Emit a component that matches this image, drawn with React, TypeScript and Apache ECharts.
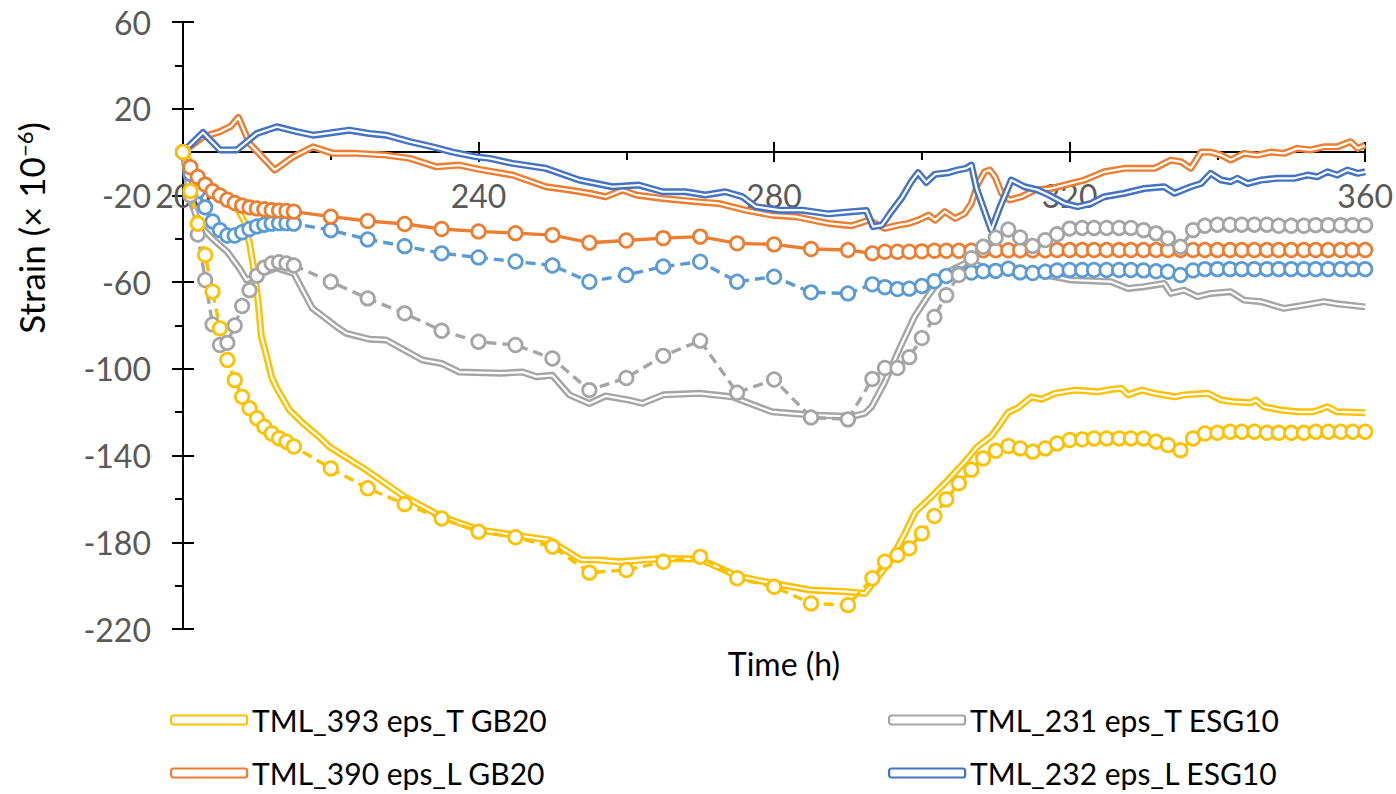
import React, { useEffect, useRef } from "react";
import * as echarts from "echarts";

const FONT = "Lato";

// Double-line gauge records: [time (h), strain (x10^-6)]
const tml393EpsT: [number, number][] = [
  [200, 0], [202, -10], [204, -16], [206, -21], [207.5, -27], [208.3, -32], [209, -42], [209.7, -56],
  [210.2, -70], [210.6, -85], [211.3, -94], [212, -104], [212.7, -109], [214.4, -119], [216.2, -125],
  [218.3, -131], [219.8, -135.9], [224.8, -146.7], [230, -159], [234.9, -168], [240.1, -174.3],
  [245, -176.7], [249.6, -179], [253.8, -188], [256.3, -188.2], [259, -189], [264.8, -187.5],
  [269.8, -187.7], [272.1, -191], [275, -195.6], [279.9, -199], [284.9, -202], [289.8, -202.8],
  [292.3, -203.6], [293.7, -197.4], [295.5, -189.7], [297.7, -176], [299.1, -166], [301.3, -159],
  [303.6, -151], [305.8, -143], [307.5, -136], [309.4, -131], [310.5, -126], [311.7, -120],
  [313, -118], [314.8, -113], [316.2, -114], [318, -111.3], [320.7, -109.8], [323.8, -110.6],
  [325.6, -109.5], [327, -109], [327.9, -112], [329.7, -109.8], [331.5, -111.3], [334.2, -112.9],
  [335.5, -112], [338.7, -111.3], [340.5, -114.4], [342.3, -115.2], [344.5, -115.6], [345.2, -114.4],
  [346.3, -117.5], [348.6, -119], [350.8, -119.8], [353, -119.8], [354.9, -117.5], [356.2, -119.8],
  [360, -120.2],
];

const tml231EpsT: [number, number][] = [
  [200, 0], [201, -22], [202.3, -34], [204, -40], [206, -46], [207.7, -54], [208.6, -59], [209.3, -58],
  [210.5, -56], [212.7, -53.5], [215, -56], [217.5, -72], [220.8, -80.6], [222.1, -83.6],
  [225.2, -86.3], [227.5, -86.7], [232.4, -95.9], [235, -97.5], [237.4, -101.5], [243, -102],
  [246, -101.5], [247.8, -103.6], [250, -103], [252.3, -112], [255, -116], [257.2, -112.5],
  [260.4, -114.4], [262.2, -115.9], [265, -112], [270, -111.3], [274.3, -112.9], [279.7, -119.8],
  [285.1, -121.3], [290.5, -122], [292.3, -120.5], [293.2, -117.5], [295, -106], [297, -90.5],
  [299, -76], [300.8, -66.5], [303.1, -56], [306.3, -50.6], [309, -54], [312, -55], [315, -56],
  [318, -57.5], [320.2, -59], [325.6, -59.8], [327.9, -62.9], [330.1, -62.1], [332.8, -60.6],
  [333.7, -65.2], [335.5, -63.7], [337.3, -66.7], [339.1, -65.2], [341.8, -64.4], [343.6, -68.3],
  [345.9, -69], [349, -72.1], [351.7, -70.6], [354.4, -69], [356.2, -70], [360, -71.4],
];

const tml390EpsL: [number, number][] = [
  [200, 0], [202.7, 7], [205, 9.4], [206.5, 12], [207.5, 16], [209, 4], [212.4, -8.3], [214.9, -2.2],
  [217.6, 2.4], [220.3, -0.6], [223.5, -0.6], [227.5, -1.4], [230.7, -2.9], [234.3, -6.8],
  [237.4, -6], [240.1, -8], [244.6, -10.6], [249.1, -16], [252.3, -17.5], [255, -19], [257.2, -20.6],
  [259.5, -17.5], [261.3, -19.8], [264.9, -21.4], [269.4, -22.9], [272.5, -23.7], [276.1, -26.8],
  [279.7, -29.1], [282.9, -29.8], [286, -32], [287.4, -32.9], [290.5, -34], [292.8, -31.4],
  [295, -35.2], [296.8, -33.7], [298.2, -32.9], [299.5, -31.4], [300.9, -29.1], [301.8, -31.4],
  [303.1, -27.5], [304.5, -30.6], [305.8, -28.3], [306.7, -23.7], [307.6, -14.5], [308.5, -9.1],
  [309.2, -8.3], [309.9, -11.4], [310.8, -19], [311.9, -22.1], [313.5, -20.6], [315.3, -17.5],
  [317.5, -16.8], [319.3, -15.2], [322, -12.9], [324.7, -9.1], [327.4, -7.5], [331.5, -7.5],
  [333.7, -3.7], [335.1, -4.5], [336.4, -7.5], [337.8, 0], [339.1, 0], [340.5, -1.4], [341.8, -3.7],
  [343.6, -0.6], [345.4, -1.4], [347.2, 0], [349, -0.6], [350.8, 1.7], [352.6, 1], [354.4, 2.4],
  [356.2, 2.4], [358, 4.8], [359, 1.7], [360, 3.2],
];

const tml232EpsL: [number, number][] = [
  [200, 0], [202.7, 9], [205, 1], [207.3, 1], [210, 8.6], [212.7, 11.7], [215.4, 9.4], [217.6, 7.8],
  [219.4, 8.6], [222.5, 10.1], [225.2, 8.6], [227.5, 7.8], [230.7, 4.8], [233.8, 2.4], [236.5, 0],
  [239.7, -2.2], [241.5, -2.9], [244.6, -5.2], [249.1, -7.5], [253.6, -12.9], [258.1, -16],
  [261.7, -15.2], [264.9, -18.3], [268, -18.3], [270.7, -19.8], [273.4, -18.3], [275.7, -20.6],
  [277.5, -25.2], [280.7, -26.8], [283.8, -26.8], [287.4, -28.5], [290.5, -27.5], [292.5, -27],
  [293.4, -34.4], [294.6, -33.7], [295.7, -28.3], [297.3, -21], [298.6, -13.5], [299.5, -9.5],
  [300.6, -14], [301.8, -10.2], [303.6, -9.5], [304.9, -8.2], [306, -7.5], [306.7, -6],
  [307.4, -16.8], [309.4, -36], [310.5, -26], [312.1, -12.9], [313.9, -16], [315.7, -17.5],
  [317.3, -20], [319.3, -23.7], [321.1, -25.2], [322.9, -23.7], [324.7, -20.6], [327.4, -19],
  [330.1, -16.8], [332.8, -16], [334.2, -19], [336.4, -16], [337.8, -14.5], [339.1, -9.8],
  [340.5, -12.9], [341.8, -13.7], [342.7, -12.1], [344.1, -14.5], [345.9, -12.9], [348.1, -12.1],
  [350.4, -12.1], [352.2, -10.6], [353.5, -11.4], [354.9, -9.1], [356.2, -10.6], [357.6, -8.3],
  [359, -9.8], [360, -9.1],
];

// Sampling times of the marker records (h)
const markerTime: number[] = [
  200, 201, 202, 203, 204, 205, 206, 207, 208, 209, 210, 211, 212, 213, 214, 215,
  220, 225, 230, 235, 240, 245, 250, 255, 260, 265, 270, 275, 280, 285, 290,
  293.3, 295, 296.7, 298.3, 300, 301.7, 303.3, 305, 306.7, 308.3,
  310, 311.7, 313.3, 315, 316.7, 318.3, 320, 321.7, 323.3, 325,
  326.7, 328.3, 330, 331.7, 333.3, 335, 336.7, 338.3, 340, 341.7,
  343.3, 345, 346.7, 348.3, 350, 351.7, 353.3, 355, 356.7, 358.3,
  360, 361.7,
];

const markerT_GB20: number[] = [
  0, -18, -33, -47.5, -64.4, -81.3, -95.9, -105.2, -112.9, -118.2, -122.8, -126.7, -129.8, -132.1, -133.6, -135.8,
  -145.9, -155.1, -162.4, -169, -175.1, -177.7, -182, -194, -192.8, -189, -186.7, -196.6, -200.5, -208.2, -209,
  -196.6, -189, -185.9, -182.8, -175.9, -167.9, -160.2, -152.8, -146.5, -141.3,
  -137.8, -135.6, -136.7, -138.2, -136.7, -134.4, -132.8, -132.5, -132.1, -132.1,
  -132.1, -132.1, -132.1, -133.6, -135.1, -137.5, -132.1, -129.8, -129.5, -129,
  -129, -129, -129.5, -129.5, -129.5, -129.5, -129, -129, -129, -129,
  -129, -129,
];

const markerT_ESG10: number[] = [
  0, -20, -38, -59, -79.5, -89, -88, -80, -71, -63.7, -57, -53.3, -51.4, -50.8, -51.4, -52.3,
  -59.8, -67.5, -74.4, -82.4, -87.5, -89, -95.2, -109.8, -104.2, -94, -87, -111, -104.9, -122.4, -123.3,
  -104.7, -99.6, -99.6, -94.6, -85.8, -76.1, -66, -56.7, -49, -43.7,
  -39.5, -35.7, -39.4, -43.3, -40.6, -37.9, -35.3, -35, -35, -35,
  -35, -35, -36, -37.5, -39.8, -43.7, -36, -34, -33.5, -33.5,
  -33.5, -33.5, -33.5, -34, -34, -34, -33.7, -33.7, -33.7, -33.7,
  -33.7, -33.7,
];

const markerL_GB20: number[] = [
  0, -7, -11.5, -15, -18, -20, -22, -23.5, -24.7, -25.5, -26, -26.4, -26.8, -27, -27.2, -27.5,
  -29.8, -31.8, -33.2, -35.5, -36.6, -37.4, -38.3, -41.8, -40.8, -39.7, -39, -42.1, -42.6, -44.7, -45.2,
  -46.7, -46, -46, -46, -45.8, -45.5, -45.5, -45.5, -45.5, -45.3,
  -45.3, -45.3, -45.3, -45.3, -45.3, -45.2, -45.2, -45.2, -45.2, -45.2,
  -45.2, -45.2, -45.2, -45.2, -45.2, -45.2, -45.2, -45.2, -45.2, -45.2,
  -45.2, -45.2, -45.2, -45.2, -45.2, -45.2, -45.2, -45.2, -45.2, -45.2,
  -45.2, -45.2,
];

const markerL_ESG10: number[] = [
  0, -10, -18, -25.5, -32, -36, -38.5, -38.5, -37, -35.5, -34.3, -33.5, -33, -32.8, -32.8, -33,
  -36, -40.3, -43.4, -46.7, -48.6, -50.5, -52.3, -59.8, -56.7, -52.8, -50.6, -59.8, -57.5, -64.7, -65.2,
  -61, -62.3, -63.2, -63, -61.8, -59.6, -57.2, -56.3, -55.6, -55,
  -54.8, -53.8, -55.5, -55.8, -55.2, -54.6, -54.4, -54.4, -54.4, -54.4,
  -54.4, -54.4, -54.6, -55, -55.2, -56.7, -54.6, -54, -54, -54,
  -54, -54, -54, -54, -54, -54, -54, -54, -54, -54,
  -54, -54,
];

const xTicks = { min: 200, max: 360, interval: 40 };
const yTicks = { min: -220, max: 60, interval: 40 };

const legendLeft = ["TML_393 eps_T GB20", "TML_390 eps_L GB20"];
const legendRight = ["TML_231 eps_T ESG10", "TML_232 eps_L ESG10"];

const COLORS: Record<string, string> = {
  "TML_393 eps_T GB20": "#FFC000",
  "TML_231 eps_T ESG10": "#A5A5A5",
  "TML_390 eps_L GB20": "#ED7D31",
  "TML_232 eps_L ESG10": "#4472C4",
};

// Plot box in pixels
const GRID = { left: 183, top: 22, width: 1185, height: 607 };
// The time axis crosses the strain axis at zero: shift it up from the bottom edge
const X_AXIS_OFFSET = -(GRID.height * (0 - yTicks.min)) / (yTicks.max - yTicks.min);

const zip = (t: number[], v: number[]) => t.map((x, i) => [x, v[i]]);

function doubleLine(name: string, data: [number, number][]) {
  const color = COLORS[name];
  return [
    {
      type: "line",
      name,
      data,
      symbol: "none",
      silent: true,
      lineStyle: { color, width: 7, join: "round" },
      itemStyle: { color },
      z: 2,
    },
    {
      type: "line",
      data,
      symbol: "none",
      silent: true,
      lineStyle: { color: "#ffffff", width: 2.2, join: "round" },
      z: 2,
    },
  ];
}

function markerLine(data: number[][], color: string, dashed: boolean) {
  return {
    type: "line",
    data,
    symbol: "circle",
    symbolSize: 13.5,
    silent: true,
    clip: true,
    lineStyle: { color, width: 3.4, type: dashed ? [10, 6] : "solid" },
    itemStyle: { color: "#ffffff", borderColor: color, borderWidth: 2.7 },
    z: 3,
  };
}

function legendItems(names: string[]) {
  return names.map((name) => ({
    name,
    icon: "roundRect",
    itemStyle: { color: "#ffffff", borderColor: COLORS[name], borderWidth: 2.2 },
  }));
}

const tickLine = { color: "#000000", width: 2 };

function legendColumn(left: number, names: string[]) {
  return {
    left,
    top: 702,
    orient: "vertical",
    padding: 0,
    itemGap: 17,
    itemWidth: 76,
    itemHeight: 9,
    selectedMode: false,
    textStyle: { color: "#000000", fontSize: 30, fontFamily: FONT, lineHeight: 36 },
    data: legendItems(names),
  };
}

function buildOption() {
  return {
    animation: false,
    backgroundColor: "#ffffff",
    grid: { ...GRID, containLabel: false },
    xAxis: [
      {
        type: "value",
        ...xTicks,
        position: "bottom",
        offset: X_AXIS_OFFSET,
        axisLine: { show: true, onZero: false, lineStyle: tickLine },
        axisTick: { show: true, length: 10, lineStyle: tickLine },
        minorTick: { show: true, splitNumber: 2, length: 8, lineStyle: tickLine },
        splitLine: { show: false },
        axisLabel: { margin: 27, color: "#595959", fontSize: 32, fontFamily: FONT },
      },
      {
        type: "value",
        ...xTicks,
        position: "bottom",
        offset: X_AXIS_OFFSET,
        axisLine: { show: false, onZero: false },
        axisTick: { show: true, inside: true, length: 10, lineStyle: tickLine },
        axisLabel: { show: false },
        splitLine: { show: false },
      },
    ],
    yAxis: [
      {
        type: "value",
        ...yTicks,
        position: "left",
        axisLine: { show: true, onZero: false, lineStyle: tickLine },
        axisTick: { show: true, length: 11, lineStyle: tickLine },
        minorTick: { show: true, splitNumber: 2, length: 8, lineStyle: tickLine },
        splitLine: { show: false },
        axisLabel: { margin: 32, color: "#595959", fontSize: 32, fontFamily: FONT },
      },
      {
        type: "value",
        ...yTicks,
        position: "left",
        axisLine: { show: false, onZero: false },
        axisTick: { show: true, inside: true, length: 11, lineStyle: tickLine },
        axisLabel: { show: false },
        splitLine: { show: false },
      },
    ],
    legend: [legendColumn(170, legendLeft), legendColumn(888, legendRight)],
    graphic: [
      {
        type: "text",
        x: 784,
        y: 663,
        style: {
          text: "Time (h)",
          fill: "#000000",
          fontSize: 32,
          fontFamily: FONT,
          align: "center",
          verticalAlign: "middle",
        },
      },
      {
        type: "text",
        x: 31,
        y: 228,
        rotation: Math.PI / 2,
        style: {
          text: "Strain (× 10{sup|−6})",
          fill: "#000000",
          fontSize: 35,
          fontFamily: FONT,
          align: "center",
          verticalAlign: "middle",
          rich: {
            sup: { fontSize: 22, fontFamily: FONT, fill: "#000000", verticalAlign: "top" },
          },
        },
      },
    ],
    series: [
      ...doubleLine("TML_393 eps_T GB20", tml393EpsT),
      ...doubleLine("TML_231 eps_T ESG10", tml231EpsT),
      ...doubleLine("TML_390 eps_L GB20", tml390EpsL),
      ...doubleLine("TML_232 eps_L ESG10", tml232EpsL),
      markerLine(zip(markerTime, markerL_ESG10), "#5B9BD5", true),
      markerLine(zip(markerTime, markerL_GB20), "#ED7D31", false),
      markerLine(zip(markerTime, markerT_ESG10), "#A5A5A5", true),
      markerLine(zip(markerTime, markerT_GB20), "#FFC000", true),
    ],
  };
}

export default function App() {
  const ref = useRef<HTMLDivElement>(null);
  useEffect(() => {
    if (!ref.current) return;
    const chart = echarts.init(ref.current, null, { renderer: "svg" });
    chart.setOption(buildOption() as any);
    return () => chart.dispose();
  }, []);
  return (
    <div
      ref={ref}
      style={{ position: "fixed", left: 0, top: 0, width: 1396, height: 794, background: "#ffffff" }}
    />
  );
}
